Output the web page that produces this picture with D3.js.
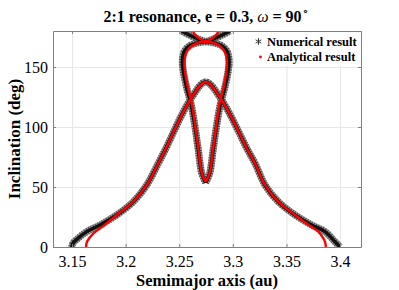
<!DOCTYPE html>
<html>
<head>
<meta charset="utf-8">
<script src="https://cdn.jsdelivr.net/npm/d3@7"></script>
<style>
  body { margin: 0; background: #fff; }
  svg text { font-family: "Liberation Serif", "Times New Roman", serif; fill: #000; }
</style>
</head>
<body>
<svg class="chart" width="399" height="290"></svg>
<script>
// semimajor axis (au), inclination (deg)
var numericalOuter = [
    [3.1497, 0], [3.1509, 3.3], [3.1544, 6.4], [3.1637, 12.8], [3.1761, 18.3],
    [3.1917, 26.7], [3.2072, 37.8], [3.2197, 51.7], [3.2305, 69.8], [3.2368, 80.8],
    [3.2601, 122.5], [3.2747, 137.5], [3.2896, 122.5], [3.3139, 80.8], [3.3207, 69.8],
    [3.3300, 51.7], [3.3424, 37.8], [3.3580, 26.7], [3.3736, 18.3], [3.3860, 12.8],
    [3.3953, 4.4], [3.4000, 0]
];
var numericalInnerLeft = [
    [3.2747, 53.6], [3.2710, 61.4], [3.2678, 80.8], [3.2647, 100.2], [3.2610, 119.2],
    [3.2570, 132.5], [3.2538, 146.4], [3.2529, 154.8], [3.2548, 163.1], [3.2601, 167.9],
    [3.2674, 170.2], [3.2747, 171.2], [3.2806, 172.9], [3.2881, 175.8], [3.2974, 180]
];
var numericalInnerRight = [
    [3.2747, 53.6], [3.2784, 61.4], [3.2816, 80.8], [3.2847, 100.2], [3.2884, 119.2],
    [3.2924, 132.5], [3.2956, 146.4], [3.2965, 154.8], [3.2946, 163.1], [3.2893, 167.9],
    [3.2820, 170.2], [3.2747, 171.2], [3.2688, 172.9], [3.2613, 175.8], [3.2520, 180]
];
var analyticalOuter = [
    [3.1631, 0], [3.1640, 4.5], [3.1699, 11.4], [3.1792, 17.5], [3.1917, 26.7],
    [3.2072, 37.8], [3.2197, 51.7], [3.2305, 69.8], [3.2368, 80.8], [3.2601, 122.5],
    [3.2747, 137.5], [3.2896, 122.5], [3.3139, 80.8], [3.3207, 69.8], [3.3300, 51.7],
    [3.3424, 37.8], [3.3580, 26.7], [3.3701, 18.75], [3.3797, 12.8], [3.3844, 7.3],
    [3.3860, 4.2], [3.3869, 0]
];
var analyticalInnerLeft = [
    [3.2747, 54.2], [3.2710, 61.7], [3.2680, 80.8], [3.2650, 100.2], [3.2619, 119.2],
    [3.2582, 132.5], [3.2554, 146.4], [3.2549, 154.8], [3.2568, 162.5], [3.2615, 167.5],
    [3.2685, 170.4], [3.2747, 171.2], [3.2797, 173.3], [3.2834, 175.8], [3.2857, 178.3],
    [3.2865, 180]
];
var analyticalInnerRight = [
    [3.2747, 54.2], [3.2784, 61.7], [3.2814, 80.8], [3.2844, 100.2], [3.2875, 119.2],
    [3.2912, 132.5], [3.2940, 146.4], [3.2945, 154.8], [3.2926, 162.5], [3.2879, 167.5],
    [3.2809, 170.4], [3.2747, 171.2], [3.2697, 173.3], [3.2660, 175.8], [3.2637, 178.3],
    [3.2629, 180]
];
var aTicks = [3.15, 3.2, 3.25, 3.3, 3.35, 3.4];
var iTicks = [0, 50, 100, 150];
var legendLabels = ["Numerical result", "Analytical result"];

var plot = {left: 53, right: 361, top: 31, bottom: 247};
var serif = "Liberation Serif, Times New Roman, serif";

var x = d3.scaleLinear()
    .domain([3.1322, 3.4196])
    .range([plot.left, plot.right]);
var y = d3.scaleLinear()
    .domain([0, 180])
    .range([plot.bottom, plot.top]);

var svg = d3.select(".chart");
var plotW = plot.right - plot.left, plotH = plot.bottom - plot.top;

svg.append("defs").append("clipPath")
    .attr("id", "plot-clip")
    .append("rect")
    .attr("x", plot.left).attr("y", plot.top)
    .attr("width", plotW).attr("height", plotH);

// grid
svg.append("g")
    .attr("transform", "translate(0," + plot.bottom + ")")
    .call(d3.axisBottom(x).tickValues(aTicks).tickSize(-plotH).tickFormat(""))
    .call(function(g) {
        g.select(".domain").remove();
        g.selectAll(".tick line").attr("stroke", "#e6e6e6");
    });
svg.append("g")
    .attr("transform", "translate(" + plot.left + ",0)")
    .call(d3.axisLeft(y).tickValues(iTicks).tickSize(-plotW).tickFormat(""))
    .call(function(g) {
        g.select(".domain").remove();
        g.selectAll(".tick line").attr("stroke", "#e6e6e6");
    });

var line = d3.line()
    .x(function(d) { return x(d[0]); })
    .y(function(d) { return y(d[1]); })
    .curve(d3.curveCatmullRom.alpha(0.5));

var curves = svg.append("g").attr("clip-path", "url(#plot-clip)");
var numerical = [numericalOuter, numericalInnerLeft, numericalInnerRight];
var analytical = [analyticalOuter, analyticalInnerLeft, analyticalInnerRight];

// numerical result: dense asterisks -> textured grey band with a black core
curves.selectAll(".num-band")
    .data(numerical)
    .enter().append("path")
    .attr("fill", "none")
    .attr("stroke", "#a0a0a0")
    .attr("stroke-width", 7)
    .attr("stroke-linejoin", "round")
    .attr("d", line);
curves.selectAll(".num-tex")
    .data(numerical)
    .enter().append("path")
    .attr("fill", "none")
    .attr("stroke", "#555")
    .attr("stroke-width", 7)
    .attr("stroke-dasharray", "1.2,1.3")
    .attr("d", line);
curves.selectAll(".num-core")
    .data(numerical)
    .enter().append("path")
    .attr("fill", "none")
    .attr("stroke", "#111")
    .attr("stroke-width", 3.5)
    .attr("stroke-linejoin", "round")
    .attr("d", line);

curves.selectAll(".ana")
    .data(analytical)
    .enter().append("path")
    .attr("fill", "none")
    .attr("stroke", "#ff0000")
    .attr("stroke-width", 2.4)
    .attr("stroke-linejoin", "round")
    .attr("d", line);

// axes box with inward ticks
function plainAxis(g) {
    g.attr("font-family", serif).attr("font-size", 16);
    g.select(".domain").attr("stroke", "#808080");
    g.selectAll(".tick line").attr("stroke", "#808080");
    g.selectAll(".tick text").attr("fill", "#222");
}
svg.append("g")
    .attr("transform", "translate(0," + plot.bottom + ")")
    .call(d3.axisBottom(x).tickValues(aTicks).tickSizeInner(-3).tickSizeOuter(0)
        .tickPadding(8.5).tickFormat(function(d) { return d; }))
    .call(plainAxis);
svg.append("g")
    .attr("transform", "translate(0," + plot.top + ")")
    .call(d3.axisTop(x).tickValues(aTicks).tickSizeInner(-3).tickSizeOuter(0).tickFormat(""))
    .call(plainAxis);
svg.append("g")
    .attr("transform", "translate(" + plot.left + ",0)")
    .call(d3.axisLeft(y).tickValues(iTicks).tickSizeInner(-3).tickSizeOuter(0)
        .tickPadding(5).tickFormat(function(d) { return d; }))
    .call(plainAxis);
svg.append("g")
    .attr("transform", "translate(" + plot.right + ",0)")
    .call(d3.axisRight(y).tickValues(iTicks).tickSizeInner(-3).tickSizeOuter(0).tickFormat(""))
    .call(plainAxis);

// legend
var legend = svg.append("g");
legend.append("rect")
    .attr("x", 250).attr("y", plot.top + 1)
    .attr("width", plot.right - 251).attr("height", 34)
    .attr("fill", "#fff");
legend.append("path")
    .attr("transform", "translate(258.5,41.5)")
    .attr("d", d3.symbol(d3.symbolAsterisk || d3.symbolCross).size(30)())
    .attr("fill", "none")
    .attr("stroke", "#333")
    .attr("stroke-width", 1);
legend.append("circle")
    .attr("cx", 260.5).attr("cy", 57)
    .attr("r", 1.4)
    .attr("fill", "#ff0000");
legend.selectAll(".legend-text")
    .data(legendLabels)
    .enter().append("text")
    .attr("x", 267)
    .attr("y", function(d, i) { return 46 + i * 14.5; })
    .attr("font-size", "12.5px")
    .attr("font-weight", "bold")
    .text(function(d) { return d; });

// title
var title = svg.append("text")
    .attr("x", 206)
    .attr("y", 22)
    .attr("text-anchor", "middle")
    .attr("font-size", "16px")
    .attr("font-weight", "bold");
title.append("tspan").text("2:1 resonance, e = 0.3, ");
title.append("tspan").attr("font-style", "italic").attr("font-weight", "normal").text("\u03c9");
title.append("tspan").text(" = 90");
title.append("tspan").attr("dy", -7).attr("font-size", "11px").attr("font-weight", "normal").text("\u2218");

// axis labels
svg.append("text")
    .attr("x", (plot.left + plot.right) / 2)
    .attr("y", 285.5)
    .attr("text-anchor", "middle")
    .attr("font-size", "16.5px")
    .attr("font-weight", "bold")
    .text("Semimajor axis (au)");
svg.append("text")
    .attr("transform", "translate(20," + (plot.top + plot.bottom) / 2 + ") rotate(-90)")
    .attr("text-anchor", "middle")
    .attr("font-size", "17px")
    .attr("font-weight", "bold")
    .text("Inclination (deg)");
</script>
</body>
</html>
